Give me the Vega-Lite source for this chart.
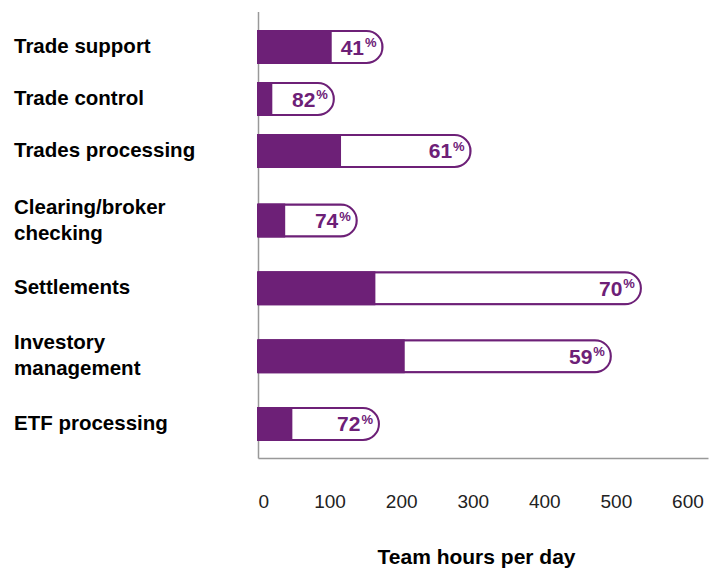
{
  "$schema": "https://vega.github.io/schema/vega-lite/v6.json",
  "padding": {"left": 13, "top": 11.5, "right": 5, "bottom": 0},
  "spacing": 0,
  "config": {
    "view": {"stroke": null},
    "font": "Liberation Sans",
    "axis": {"grid": false}
  },
  "datasets": {
    "tasks": [
      {"task": "Trade support", "total_hours": 174, "remaining_hours": 103, "automatable_pct": 41},
      {"task": "Trade control", "total_hours": 106, "remaining_hours": 20, "automatable_pct": 82},
      {"task": "Trades processing", "total_hours": 297, "remaining_hours": 116, "automatable_pct": 61},
      {"task": "Clearing/broker checking", "total_hours": 138, "remaining_hours": 38, "automatable_pct": 74},
      {"task": "Settlements", "total_hours": 535, "remaining_hours": 164, "automatable_pct": 70},
      {"task": "Investory management", "total_hours": 493, "remaining_hours": 205, "automatable_pct": 59},
      {"task": "ETF processing", "total_hours": 169, "remaining_hours": 48, "automatable_pct": 72}
    ]
  },
  "vconcat": [
    {
      "width": 450,
      "height": 175,
      "data": {"name": "tasks"},
      "transform": [{"filter": {"field": "task", "oneOf": ["Trade support", "Trade control", "Trades processing"]}}],
      "encoding": {
        "y": {
          "field": "task", "type": "nominal", "sort": null,
          "scale": {"paddingInner": 0.34615, "paddingOuter": 0.3558},
          "axis": {
            "title": null, "domain": true, "domainColor": "#999999", "domainWidth": 1.5,
            "ticks": false, "tickSize": 0, "labelAlign": "left", "labelPadding": 244.5,
            "labelFontSize": 20.5, "labelFontWeight": "bold", "labelColor": "#000000",
            "labelLimit": 240, "labelLineHeight": 26
          }
        }
      },
      "layer": [
        {
          "mark": {"type": "bar", "fill": "#ffffff", "stroke": "#6D2077", "strokeWidth": 2, "cornerRadiusEnd": 16, "height": 32},
          "encoding": {"x": {"field": "total_hours", "type": "quantitative", "scale": {"domain": [0, 628.7], "nice": false}, "axis": null}}
        },
        {
          "mark": {"type": "bar", "color": "#6D2077"},
          "encoding": {"x": {"field": "remaining_hours", "type": "quantitative", "scale": {"domain": [0, 628.7], "nice": false}, "axis": null}}
        },
        {
          "mark": {"type": "text", "align": "right", "baseline": "alphabetic", "dx": -18.5, "dy": 7.5, "fontSize": 21, "fontWeight": "bold", "color": "#6D2077"},
          "encoding": {
            "x": {"field": "total_hours", "type": "quantitative", "scale": {"domain": [0, 628.7], "nice": false}, "axis": null},
            "text": {"field": "automatable_pct", "type": "quantitative"}
          }
        },
        {
          "mark": {"type": "text", "text": "%", "align": "right", "baseline": "alphabetic", "dx": -6, "dy": 0, "fontSize": 13, "fontWeight": "bold", "color": "#6D2077"},
          "encoding": {
            "x": {"field": "total_hours", "type": "quantitative", "scale": {"domain": [0, 628.7], "nice": false}, "axis": null}
          }
        }
      ]
    },
    {
      "width": 450,
      "height": 271.5,
      "data": {"name": "tasks"},
      "transform": [{"filter": {"field": "task", "oneOf": ["Clearing/broker checking", "Settlements", "Investory management", "ETF processing"]}}],
      "encoding": {
        "y": {
          "field": "task", "type": "nominal", "sort": null,
          "scale": {"paddingInner": 0.4988, "paddingOuter": 0.2507},
          "axis": {
            "title": null, "domain": true, "domainColor": "#999999", "domainWidth": 1.5,
            "ticks": false, "tickSize": 0, "labelAlign": "left", "labelPadding": 244.5,
            "labelFontSize": 20.5, "labelFontWeight": "bold", "labelColor": "#000000",
            "labelLimit": 240, "labelLineHeight": 26,
            "labelOffset": {"condition": {"test": "datum.value == 'Clearing/broker checking' || datum.value == 'Investory management'", "value": -13}, "value": 0},
            "labelExpr": "datum.label == 'Clearing/broker checking' ? ['Clearing/broker', 'checking'] : datum.label == 'Investory management' ? ['Investory', 'management'] : datum.label"
          }
        }
      },
      "layer": [
        {
          "mark": {"type": "bar", "fill": "#ffffff", "stroke": "#6D2077", "strokeWidth": 2, "cornerRadiusEnd": 16, "height": 32},
          "encoding": {
            "x": {
              "field": "total_hours", "type": "quantitative", "scale": {"domain": [0, 628.7], "nice": false},
              "axis": {
                "values": [0, 100, 200, 300, 400, 500, 600],
                "title": "Team hours per day", "titleFontSize": 21, "titleFontWeight": "bold", "titleColor": "#000000",
                "titleX": 218, "titleY": 105, "titleBaseline": "alphabetic",
                "domain": true, "domainColor": "#999999", "domainWidth": 1.5,
                "ticks": false, "tickSize": 0, "labelFontSize": 19, "labelColor": "#222222", "labelPadding": 34
              }
            }
          }
        },
        {
          "mark": {"type": "bar", "color": "#6D2077"},
          "encoding": {
            "x": {
              "field": "remaining_hours", "type": "quantitative", "scale": {"domain": [0, 628.7], "nice": false},
              "axis": {
                "values": [0, 100, 200, 300, 400, 500, 600],
                "title": "Team hours per day", "titleFontSize": 21, "titleFontWeight": "bold", "titleColor": "#000000",
                "titleX": 218, "titleY": 105, "titleBaseline": "alphabetic",
                "domain": true, "domainColor": "#999999", "domainWidth": 1.5,
                "ticks": false, "tickSize": 0, "labelFontSize": 19, "labelColor": "#222222", "labelPadding": 34
              }
            }
          }
        },
        {
          "mark": {"type": "text", "align": "right", "baseline": "alphabetic", "dx": -18.5, "dy": 7.5, "fontSize": 21, "fontWeight": "bold", "color": "#6D2077"},
          "encoding": {
            "x": {
              "field": "total_hours", "type": "quantitative", "scale": {"domain": [0, 628.7], "nice": false},
              "axis": {
                "values": [0, 100, 200, 300, 400, 500, 600],
                "title": "Team hours per day", "titleFontSize": 21, "titleFontWeight": "bold", "titleColor": "#000000",
                "titleX": 218, "titleY": 105, "titleBaseline": "alphabetic",
                "domain": true, "domainColor": "#999999", "domainWidth": 1.5,
                "ticks": false, "tickSize": 0, "labelFontSize": 19, "labelColor": "#222222", "labelPadding": 34
              }
            },
            "text": {"field": "automatable_pct", "type": "quantitative"}
          }
        },
        {
          "mark": {"type": "text", "text": "%", "align": "right", "baseline": "alphabetic", "dx": -6, "dy": 0, "fontSize": 13, "fontWeight": "bold", "color": "#6D2077"},
          "encoding": {
            "x": {
              "field": "total_hours", "type": "quantitative", "scale": {"domain": [0, 628.7], "nice": false},
              "axis": {
                "values": [0, 100, 200, 300, 400, 500, 600],
                "title": "Team hours per day", "titleFontSize": 21, "titleFontWeight": "bold", "titleColor": "#000000",
                "titleX": 218, "titleY": 105, "titleBaseline": "alphabetic",
                "domain": true, "domainColor": "#999999", "domainWidth": 1.5,
                "ticks": false, "tickSize": 0, "labelFontSize": 19, "labelColor": "#222222", "labelPadding": 34
              }
            }
          }
        }
      ]
    }
  ]
}
